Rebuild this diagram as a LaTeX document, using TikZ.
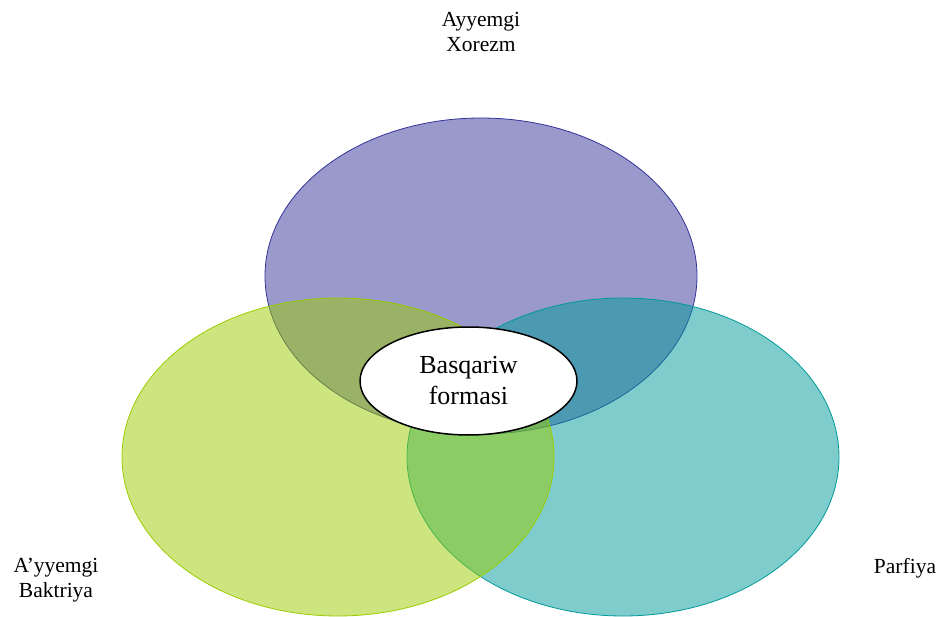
\documentclass[tikz,border=0pt]{standalone}
\usepackage{fontspec}
\setmainfont{Liberation Serif}
\usetikzlibrary{shapes.geometric}
\begin{document}
\begin{tikzpicture}[x=1pt,y=-1pt,
  venn/.style={line width=0.8pt, fill opacity=0.5},
  lab/.style={font=\fontsize{21.5}{25}\selectfont, align=center, inner sep=0pt},
  core/.style={draw=black, line width=1.5pt, fill=white, ellipse, minimum width=217pt, minimum height=108pt, inner sep=0pt, align=center, font=\fontsize{26}{31}\selectfont}]
\useasboundingbox (0,0) rectangle (941,617);
\definecolor{navy}{HTML}{333399}
\definecolor{lime}{HTML}{99CC00}
\definecolor{teal2}{HTML}{009999}
\path[venn, fill=navy, draw=navy] (481,276) ellipse [x radius=216, y radius=158];
\path[venn, fill=teal2, draw=teal2] (623,457) ellipse [x radius=216, y radius=159];
\path[venn, fill=lime, draw=lime] (338,457) ellipse [x radius=216, y radius=159];
\node[core] (c) at (468.5,381) {Basqariw\\formasi};
\node[lab, anchor=base] (t1) at (481,27) {Ayyemgi};
\node[lab, anchor=base] (t2) at (481,52) {Xorezm};
\node[lab, anchor=base] (l1) at (56,572) {A’yyemgi};
\node[lab, anchor=base] (l2) at (56,597) {Baktriya};
\node[lab, anchor=base] (r1) at (905,573) {Parfiya};
\end{tikzpicture}
\end{document}
